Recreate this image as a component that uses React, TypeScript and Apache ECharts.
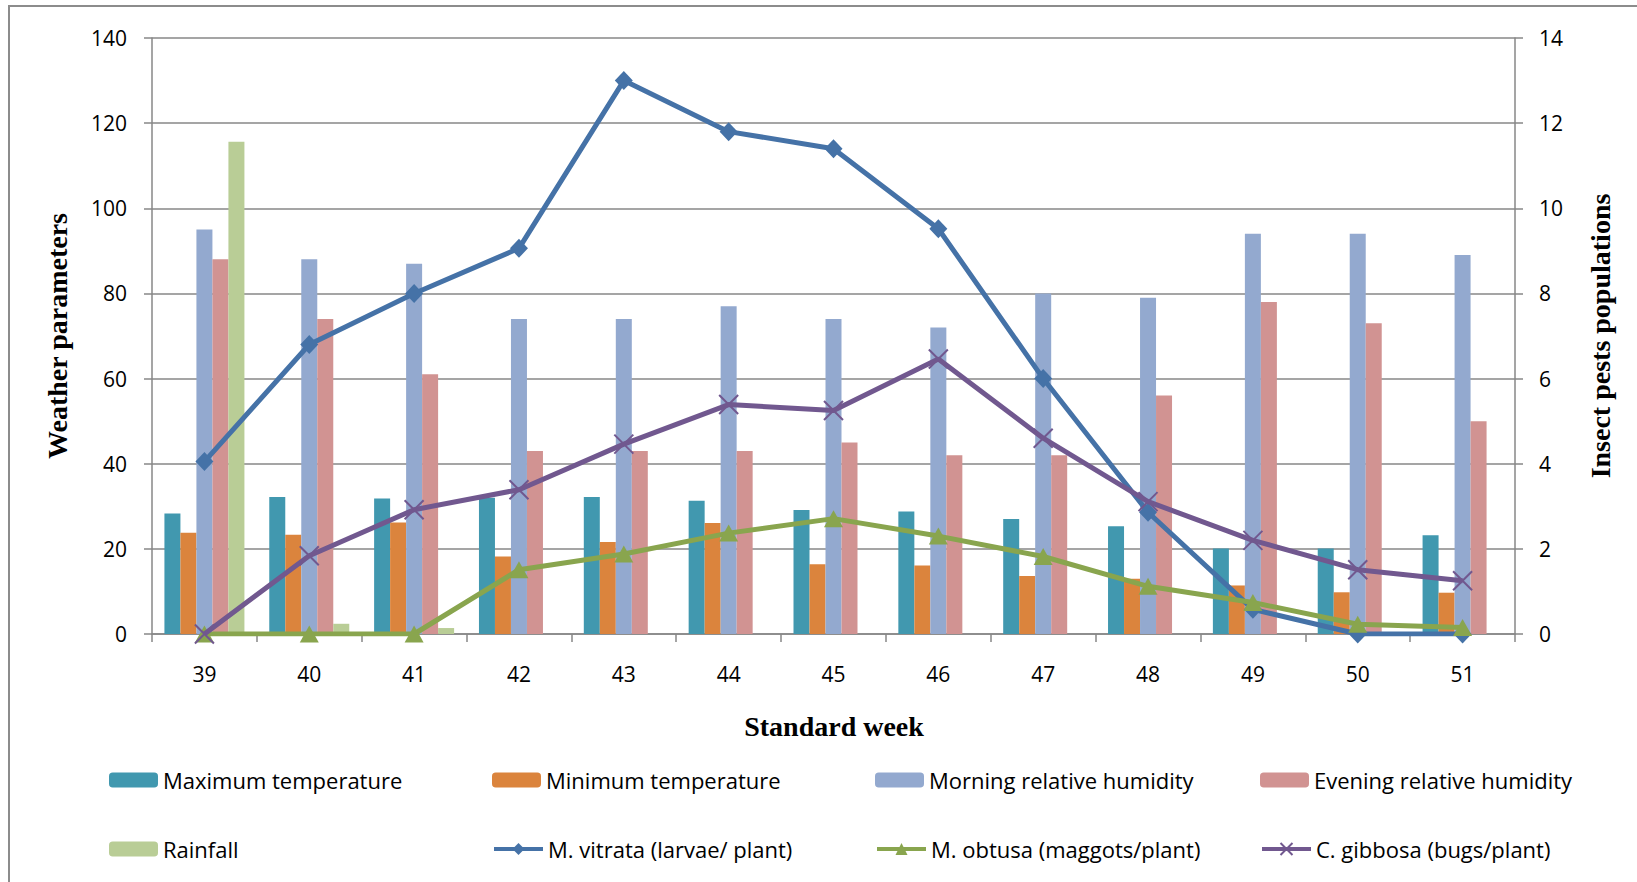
import React, { useEffect, useRef } from "react";
import * as echarts from "echarts";

const weeks = ["39", "40", "41", "42", "43", "44", "45", "46", "47", "48", "49", "50", "51"];
const maxTemp = [28.3, 32.2, 31.8, 32.0, 32.2, 31.3, 29.1, 28.8, 27.0, 25.3, 20.1, 20.1, 23.2];
const minTemp = [23.8, 23.3, 26.2, 18.2, 21.6, 26.1, 16.4, 16.1, 13.6, 13.0, 11.4, 9.8, 9.7];
const morningRH = [95, 88, 87, 74, 74, 77, 74, 72, 80, 79, 94, 94, 89];
const eveningRH = [88, 74, 61, 43, 43, 43, 45, 42, 42, 56, 78, 73, 50];
const rainfall = [115.6, 2.4, 1.4, 0, 0, 0, 0, 0, 0, 0, 0, 0, 0];
const vitrata = [4.05, 6.8, 8.0, 9.06, 13.0, 11.8, 11.4, 9.52, 6.0, 2.86, 0.58, 0, 0];
const obtusa = [0, 0, 0, 1.51, 1.88, 2.37, 2.71, 2.3, 1.82, 1.12, 0.74, 0.23, 0.15];
const gibbosa = [0, 1.84, 2.92, 3.39, 4.46, 5.39, 5.25, 6.46, 4.6, 3.11, 2.2, 1.51, 1.25];

const leftTicks = { min: 0, max: 140, interval: 20 };
const rightTicks = { min: 0, max: 14, interval: 2 };

const barNames = [
  "Maximum temperature",
  "Minimum temperature",
  "Morning relative humidity",
  "Evening relative humidity",
  "Rainfall",
];
const barColors = ["#4198AF", "#DB843D", "#93A9CF", "#D19392", "#B9CD96"];
const barData = [maxTemp, minTemp, morningRH, eveningRH, rainfall];

const lineNames = [
  "M. vitrata (larvae/ plant)",
  "M. obtusa (maggots/plant)",
  "C. gibbosa (bugs/plant)",
];
const lineColors = ["#4572A7", "#89A54E", "#71588F"];
const lineData = [vitrata, obtusa, gibbosa];
const lineSymbols = ["diamond", "triangle", "path://M0,0L10,10M10,0L0,10"];
const lineSymbolSizes: any[] = [[18, 19], [19, 17], 19];

const GRAY = "#878787";
const TICK_FONT = "'Open Sans', 'Liberation Sans', sans-serif";
const TITLE_FONT = "'Liberation Serif', 'DejaVu Serif', serif";

export default function App() {
  const ref = useRef<HTMLDivElement>(null);

  useEffect(() => {
    if (!ref.current) return;
    const chart = echarts.init(ref.current, undefined, { renderer: "svg" });

    const legendOrder = [...barNames, ...lineNames];
    const legendCols = [109, 492, 875, 1260];
    const legendRows = [769, 838];
    const legends = legendOrder.map((name, i) => ({
      data: [name],
      left: legendCols[i % 4],
      top: legendRows[Math.floor(i / 4)],
      padding: 0,
      itemWidth: 49,
      itemHeight: 15,
      itemGap: 0,
      selectedMode: false,
      lineStyle: { width: 4 },
      textStyle: {
        fontFamily: TICK_FONT,
        fontSize: 22,
        lineHeight: 20,
        color: "#000",
      },
    }));

    const series: any[] = [];
    barNames.forEach((name, i) => {
      series.push({
        name,
        type: "bar",
        yAxisIndex: 0,
        data: barData[i],
        barWidth: 16,
        barGap: "0%",
        itemStyle: { color: barColors[i] },
        z: 2,
      });
    });
    lineNames.forEach((name, i) => {
      series.push({
        name,
        type: "line",
        yAxisIndex: 1,
        data: lineData[i],
        symbol: lineSymbols[i],
        symbolSize: lineSymbolSizes[i],
        showAllSymbol: true,
        lineStyle: { color: lineColors[i], width: 5 },
        itemStyle:
          i === 2
            ? { color: lineColors[i], borderColor: lineColors[i], borderWidth: 2 }
            : { color: lineColors[i] },
        z: 5 + i,
      });
    });

    const option: any = {
      animation: false,
      backgroundColor: "#fff",
      grid: { left: 152, right: 122, top: 38, bottom: 248, containLabel: false },
      legend: legends,
      xAxis: {
        type: "category",
        data: weeks,
        boundaryGap: true,
        axisLine: { show: true, lineStyle: { color: GRAY, width: 1.5 } },
        axisTick: { show: true, length: 8, alignWithLabel: false, lineStyle: { color: GRAY, width: 1.5 } },
        axisLabel: { margin: 29, fontFamily: TICK_FONT, fontSize: 21, color: "#000" },
        splitLine: { show: false },
      },
      yAxis: [
        {
          type: "value",
          position: "left",
          min: leftTicks.min,
          max: leftTicks.max,
          interval: leftTicks.interval,
          axisLine: { show: true, lineStyle: { color: GRAY, width: 1.5 } },
          axisTick: { show: true, length: 8, lineStyle: { color: GRAY, width: 1.5 } },
          axisLabel: { margin: 25, fontFamily: TICK_FONT, fontSize: 21, color: "#000" },
          splitLine: { show: true, lineStyle: { color: GRAY, width: 1.5 } },
        },
        {
          type: "value",
          position: "right",
          min: rightTicks.min,
          max: rightTicks.max,
          interval: rightTicks.interval,
          axisLine: { show: true, lineStyle: { color: GRAY, width: 1.5 } },
          axisTick: { show: true, length: 8, lineStyle: { color: GRAY, width: 1.5 } },
          axisLabel: { margin: 24, fontFamily: TICK_FONT, fontSize: 21, color: "#000" },
          splitLine: { show: false },
        },
      ],
      graphic: [
        {
          type: "rect",
          silent: true,
          z: -10,
          shape: { x: 9, y: 6, width: 1700, height: 1000 },
          style: { fill: "none", stroke: "#8c8c8c", lineWidth: 2 },
        },
        {
          type: "text",
          x: 57,
          y: 336,
          rotation: Math.PI / 2,
          style: {
            text: "Weather parameters",
            font: `bold 28px ${TITLE_FONT}`,
            fill: "#000",
            align: "center",
            verticalAlign: "middle",
          },
        },
        {
          type: "text",
          x: 1600,
          y: 336,
          rotation: Math.PI / 2,
          style: {
            text: "Insect pests populations",
            font: `bold 28px ${TITLE_FONT}`,
            fill: "#000",
            align: "center",
            verticalAlign: "middle",
          },
        },
        {
          type: "text",
          x: 834,
          y: 726,
          style: {
            text: "Standard week",
            font: `bold 28px ${TITLE_FONT}`,
            fill: "#000",
            align: "center",
            verticalAlign: "middle",
          },
        },
      ],
      series,
    };

    chart.setOption(option);
    return () => chart.dispose();
  }, []);

  return (
    <div
      ref={ref}
      style={{ position: "fixed", left: 0, top: 0, width: 1637, height: 882, background: "#fff" }}
    />
  );
}
